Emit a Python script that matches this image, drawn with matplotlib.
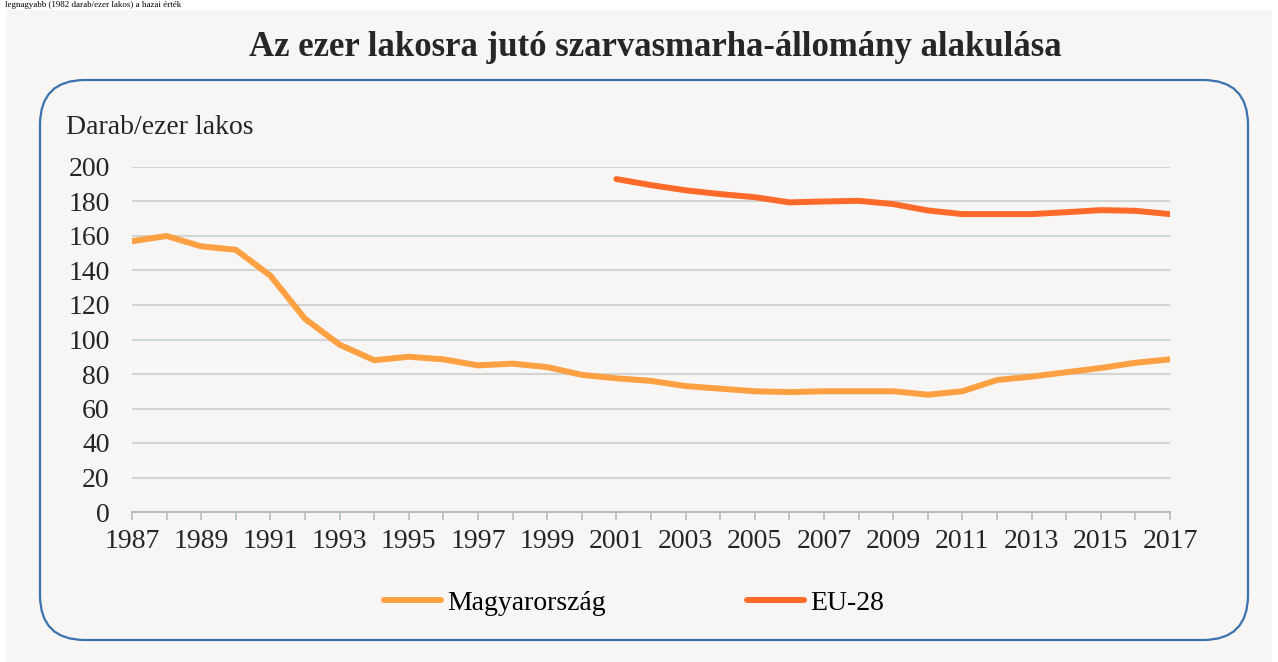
import matplotlib.pyplot as plt
from matplotlib.patches import FancyBboxPatch, Rectangle
from matplotlib.transforms import IdentityTransform

years = list(range(1987, 2018))
hu = [157, 160, 154, 152, 137, 112, 97, 88, 90, 88.5, 85, 86, 84, 79.5, 77.5, 76,
      73, 71.5, 70, 69.5, 70, 70, 70, 68, 70, 76.5, 78.5, 81, 83.5, 86.5, 88.5]
eu_years = list(range(2001, 2018))
eu = [193, 189.5, 186.5, 184.3, 182.5, 179.5, 180, 180.4, 178.5, 174.8, 172.7,
      172.7, 172.7, 173.8, 175, 174.6, 172.7]

W, H = 1278, 662
fig = plt.figure(figsize=(W / 100, H / 100), dpi=100, facecolor='white')
serif = ['Liberation Serif', 'DejaVu Serif']

# grey page background and the rounded blue frame
fig.patches.append(Rectangle((6, 0), W - 12, H - 10, transform=IdentityTransform(),
                             facecolor='#f7f6f4', edgecolor='none', zorder=-2))
fig.patches.append(FancyBboxPatch((40, H - 640), 1208, 560, transform=IdentityTransform(),
                                  boxstyle='round,pad=0,rounding_size=45',
                                  facecolor='none', edgecolor='#3a72ad', linewidth=1.6, zorder=-1))

# line of body text above the chart (only its tail shows in the page)
fig.text(0.004, 1 - 5 / H, 'legnagyabb (1982 darab/ezer lakos) a hazai érték',
         family=serif, fontsize=6.5, va='center', ha='left', color='black')

fig.text(655 / W, 1 - 47 / H, 'Az ezer lakosra jutó szarvasmarha-állomány alakulása',
         family=serif, fontsize=25, fontweight='bold', ha='center', va='center', color='#262626')

ax = fig.add_axes([132 / W, 1 - 512 / H, (1170 - 132) / W, (512 - 167) / H])
ax.set_zorder(2)
ax.set_facecolor('none')
ax.plot(years, hu, color='#ffa043', linewidth=4.3, solid_capstyle='round', label='Magyarország')
ax.plot(eu_years, eu, color='#ff6a2b', linewidth=4.3, solid_capstyle='round', label='EU-28')

ax.set_xlim(1987, 2017)
ax.set_ylim(0, 200)
ax.set_yticks(range(0, 201, 20))
ax.set_xticks(years)
ax.set_xticklabels([str(y) if (y - 1987) % 2 == 0 else '' for y in years])
ax.grid(axis='y', color='#d3d5d5', linewidth=1.5)
ax.set_axisbelow(True)
for s in ['top', 'right', 'left']:
    ax.spines[s].set_visible(False)
ax.spines['bottom'].set_color('#b8bcbc')
ax.spines['bottom'].set_linewidth(1.5)
ax.tick_params(axis='x', length=6, width=1.2, color='#b8bcbc', direction='out', pad=6)
ax.tick_params(axis='y', length=0, pad=16)
for lab in ax.get_xticklabels() + ax.get_yticklabels():
    lab.set_family(serif)
    lab.set_fontsize(20)
    lab.set_color('#262626')

fig.text(66 / W, 1 - 128 / H, 'Darab/ezer lakos', family=serif, fontsize=20,
         ha='left', va='center', color='#262626')

ax.legend(loc='center', bbox_to_anchor=(634 / W, 1 - 603 / H), bbox_transform=fig.transFigure,
          ncol=2, frameon=False, prop={'family': serif, 'size': 20}, handlelength=2.05,
          handletextpad=0.2, columnspacing=5.1)

fig.savefig('out.png', dpi=100, facecolor='white')
